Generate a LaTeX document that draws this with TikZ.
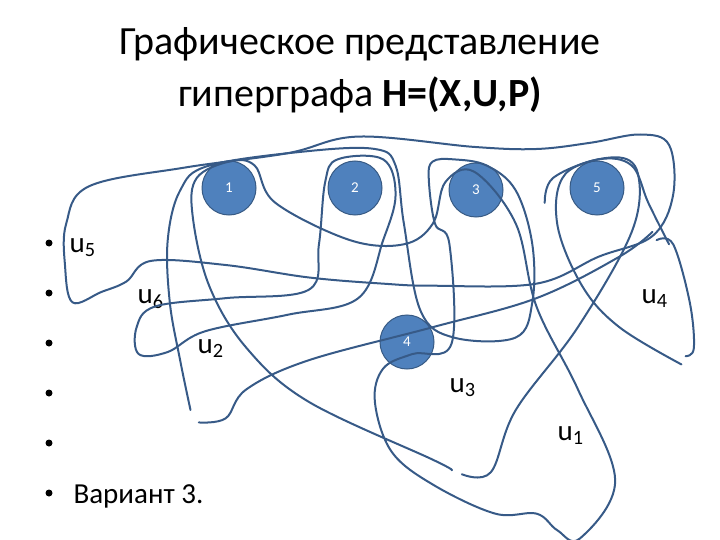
\documentclass[tikz,border=0pt]{standalone}
\usepackage{fontspec}
\setmainfont{Carlito}
\begin{document}
\begin{tikzpicture}[x=1pt,y=-1pt,
  vert/.style={circle,fill=vfill,draw=vfill!70!black,line width=1pt,minimum size=54pt,inner sep=0pt,text=white,font=\fontsize{15}{15}\selectfont},
  edge/.style={draw=ecol,line width=2pt,line cap=round,line join=round},
  lab/.style={anchor=base west,font=\fontsize{29}{29}\selectfont},
  bul/.style={circle,fill=black,inner sep=0pt,minimum size=7pt}]
\definecolor{vfill}{RGB}{79,129,189}
\definecolor{ecol}{RGB}{55,90,135}
\useasboundingbox (0,0) rectangle (720,540);
\node[font=\fontsize{40}{52}\selectfont,align=center] (title) at (360,70) {Графическое представление\\гиперграфа \textbf{H=(X,U,P)}};
\node[vert] (v1) at (229,188) {1};
\node[vert] (v2) at (355,188) {2};
\node[vert] (v3) at (476,190) {3};
\node[vert] (v5) at (597,188) {5};
\node[vert] (v4) at (407,342) {4};
\foreach \y/\n in {243/b1,293/b2,343/b3,393/b4,443/b5,493/b6} \node[bul] (\n) at (49,\y) {};
\node[lab] (u5) at (66,252) {u\textsubscript{5}};
\node[lab] (u6) at (134,303) {u\textsubscript{6}};
\node[lab] (u2) at (194,353) {u\textsubscript{2}};
\node[lab] (u3) at (446,392) {u\textsubscript{3}};
\node[lab] (u1) at (554,440) {u\textsubscript{1}};
\node[lab] (u4) at (638,303) {u\textsubscript{4}};
\node[lab] (var) at (70,503) {Вариант 3.};
\begin{scope}[shift={(60,120)},scale=0.4143]
\draw[edge] plot[smooth cycle,tension=0.6] coordinates {(100,415)(30,440)(12,350)(15,250)(70,160)(300,115)(550,80)(720,40)(1000,65)(1150,70)(1280,55)(1400,35)(1470,60)(1480,180)(1430,280)(1300,330)(1150,395)(900,400)(780,395)(600,380)(400,350)(220,340)(160,390)};
\draw[edge] plot[smooth cycle,tension=0.6] coordinates {(185,500)(230,450)(400,430)(600,410)(625,300)(640,150)(670,95)(780,95)(810,180)(780,290)(720,430)(550,470)(350,510)(260,560)(190,565)};
\draw[edge] plot[smooth,tension=0.6] coordinates {(315,700)(290,580)(265,440)(260,290)(290,170)(360,110)(600,75)(760,70)(810,110)(830,250)(870,460)(950,525)(1100,525)(1140,440)(1140,300)(1100,170)(1030,110)(950,95)(900,100)(890,140)(905,250)(940,300)(945,540)(850,565)(780,600)(760,680)(800,800)(900,880)(1050,950)(1150,950)(1200,990)(1255,1010)(1340,870)(1250,650)(1150,450)(1100,250)(1000,125)(930,150)(900,250)(830,300)(700,290)(520,200)(470,110)(410,100)(330,140)(320,230)(360,400)(450,550)(600,680)(900,820)(945,845)};
\draw[edge] plot[smooth,tension=0.6] coordinates {(335,730)(400,720)(450,650)(600,580)(900,500)(1150,430)(1350,330)(1430,270)};
\draw[edge] plot[smooth,tension=0.6] coordinates {(970,855)(1040,850)(1100,700)(1250,500)(1380,270)(1395,130)(1340,90)(1220,130)(1200,250)(1260,400)(1350,500)(1500,590)};
\draw[edge] plot[smooth,tension=0.6] coordinates {(1470,300)(1420,200)(1380,110)(1300,95)(1190,140)(1170,200)};
\draw[edge] plot[smooth,tension=0.6] coordinates {(1440,290)(1480,300)(1520,440)(1530,550)(1510,570)};
\end{scope}
\end{tikzpicture}
\end{document}
